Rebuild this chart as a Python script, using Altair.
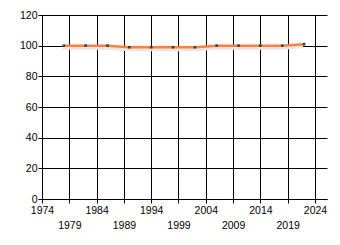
import altair as alt
import pandas as pd

years = [1978, 1982, 1986, 1990, 1994, 1998, 2002, 2006, 2010, 2014, 2018, 2022]
values = [100, 100, 100, 99, 99, 99, 99, 100, 100, 100, 100, 101]
x_ticks = [1974, 1979, 1984, 1989, 1994, 1999, 2004, 2009, 2014, 2019, 2024]
y_ticks = [0, 20, 40, 60, 80, 100, 120]

df = pd.DataFrame({"year": years, "value": values})

FONT = "Liberation Sans"

x_enc = alt.X(
    "year:Q",
    scale=alt.Scale(domain=[1974, 2026.2], nice=False, zero=False),
    axis=alt.Axis(
        values=x_ticks, format="d", title=None, grid=True, gridColor="black",
        gridOpacity=1, gridWidth=1, domainColor="black", tickColor="black",
        tickSize=4, labelFont=FONT, labelFontSize=10.5, labelColor="black",
        labelPadding={"condition": {"test": "(datum.value - 1974) % 10 == 5", "value": 17}, "value": 2},
        labelFlush=False, labelOverlap=False,
    ),
)
y_enc = alt.Y(
    "value:Q",
    scale=alt.Scale(domain=[0, 120], nice=False),
    axis=alt.Axis(
        values=y_ticks, title=None, grid=True, gridColor="black", gridOpacity=1,
        gridWidth=1, domainColor="black", tickColor="black", tickSize=4,
        labelFont=FONT, labelFontSize=10.5, labelColor="black", labelPadding=1,
        labelFlush=False, labelOverlap=False,
    ),
)

shadow = alt.Chart(df).mark_line(color="#e6e6e6", strokeWidth=4, yOffset=2, xOffset=-1).encode(x=x_enc, y=y_enc)
line = alt.Chart(df).mark_line(color="#ff7f3f", strokeWidth=2.5).encode(x=x_enc, y=y_enc)
pts = alt.Chart(df).mark_point(shape="square", filled=True, color="#404040", size=7, opacity=1).encode(x=x_enc, y=y_enc)

chart = (shadow + line + pts).properties(
    width=285, height=184,
    autosize=alt.AutoSizeParams(type="none"),
    padding={"left": 42, "top": 15, "right": 13, "bottom": 46},
    background="white",
).configure_view(stroke=None)

chart.save("out.html", embed_options={"renderer": "svg", "actions": False})
